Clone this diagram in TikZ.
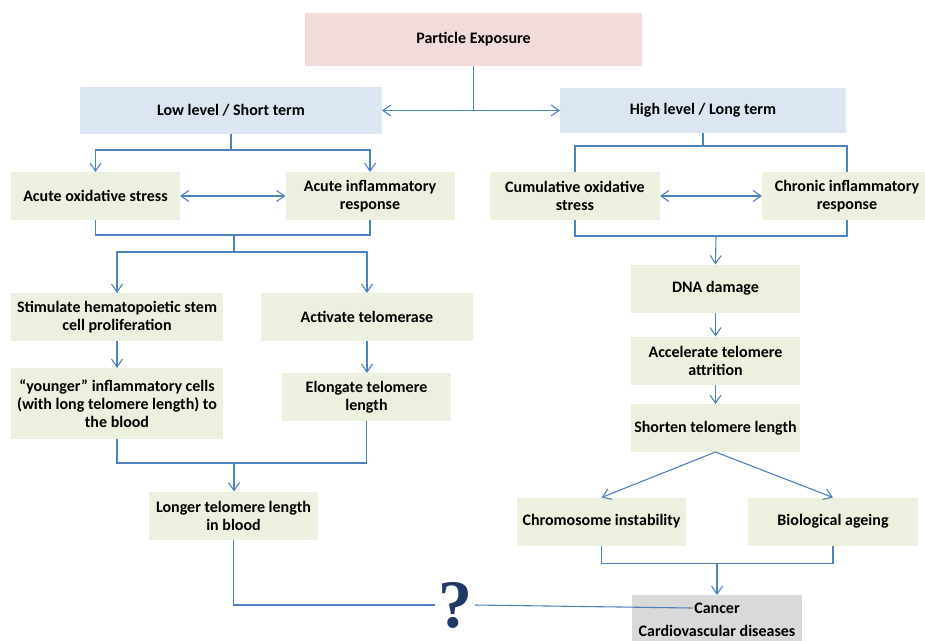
\documentclass[tikz,border=0pt]{standalone}
\usepackage{fontspec}
\setmainfont{Carlito}
\newfontfamily\qmarkfont{Liberation Serif}
\usetikzlibrary{positioning, arrows.meta}
\definecolor{expofill}{HTML}{F2DCDB}
\definecolor{levelfill}{HTML}{DCE6F2}
\definecolor{effectfill}{HTML}{EBF1DE}
\definecolor{diseasefill}{HTML}{D9D9D9}
\definecolor{linkblue}{HTML}{4F81BD}
\definecolor{qmarkblue}{HTML}{1F3864}

\begin{document}
\begin{tikzpicture}
    [x=1pt, y=-1pt, outer sep=0pt,
     stage/.style={rectangle, inner sep=0pt, align=center,
       font=\bfseries\fontsize{16}{18}\selectfont},
     level/.style={stage, fill=levelfill},
     effect/.style={stage, fill=effectfill, minimum width=169pt,
       minimum height=48pt},
     link/.style={draw=linkblue, line width=1.1pt},
     arrow/.style={link, -{Straight Barb[length=8pt, width=11pt]}},
     both/.style={link, {Straight Barb[length=8pt, width=11pt]}-{Straight Barb[length=8pt, width=11pt]}}]
    \useasboundingbox (0,0) rectangle (925,640);
    % exposure and its two levels
    \node (expo) [stage, fill=expofill, minimum width=337pt, minimum height=53pt] at (473.5,39.5) {Particle Exposure};
    \node (low) [level, minimum width=302pt, minimum height=47pt] at (231,110.5) {Low level / Short term};
    \node (high) [level, minimum width=286pt, minimum height=45pt] at (703,110.5) {High level / Long term};
    % short term branch
    \node (aox) [effect] at (95.5,196) {Acute oxidative stress};
    \node (ainf) [effect] at (370,196) {Acute inflammatory\\response};
    \node (stim) [effect, minimum width=212pt] at (117,317) {Stimulate hematopoietic stem\\cell proliferation};
    \node (act) [effect, minimum width=212pt] at (367,317) {Activate telomerase};
    \node (young) [effect, minimum width=212pt, minimum height=71pt] at (117,403.5) {“younger” inflammatory cells\\(with long telomere length) to\\the blood};
    \node (elong) [effect] at (366.5,397) {Elongate telomere\\length};
    \node (longer) [effect] at (233.5,515.5) {Longer telomere length\\in blood};
    % long term branch
    \node (cox) [effect, minimum width=170pt] at (575,196) {Cumulative oxidative\\stress};
    \node (cinf) [effect, minimum width=170pt] at (847,196) {Chronic inflammatory\\response};
    \node (dna) [effect] at (715.5,288.5) {DNA damage};
    \node (accel) [effect] at (715.5,360.5) {Accelerate telomere\\attrition};
    \node (short) [effect] at (715.5,428) {Shorten telomere length};
    \node (chrom) [effect] at (601.5,521.5) {Chromosome instability};
    \node (bio) [effect, minimum width=170pt] at (833,521.5) {Biological ageing};
    \node (disease) [rectangle, fill=diseasefill, minimum width=170pt, minimum height=60pt] at (717,625) {};
    \node (cancer) [stage, inner sep=2pt] at (717,608) {Cancer};
    \node (cvd) [stage, inner sep=2pt] at (717,631) {Cardiovascular diseases};
    \node (qmark) [font=\qmarkfont\bfseries\fontsize{68}{68}\selectfont, text=qmarkblue, inner sep=3pt] at (455,605) {?};
    % joins
    \coordinate (acutejoin) at (234,235);
    \coordinate (chronicjoin) at (716,235);
    \coordinate (telojoin) at (234,463);
    \coordinate (harmjoin) at (717,563);
    % connectors
    \draw [link] (expo.south) -- (expo.south |- low.east);
    \draw [both] (low.east) -- (high.west);
    \draw [arrow] (low.south) -- ++(0,16) -| (aox.north);
    \draw [arrow] (low.south) -- ++(0,16) -| (ainf.north);
    \draw [link] (high.south) -- ++(0,13) -| (cox.north);
    \draw [link] (high.south) -- ++(0,13) -| (cinf.north);
    \draw [both] (aox) -- (ainf);
    \draw [both] (cox) -- (cinf);
    \draw [link] (aox.south) -- ++(0,15) -| (ainf.south);
    \draw [arrow] (acutejoin) -- ++(0,17) -| (stim.north);
    \draw [arrow] (acutejoin) -- ++(0,17) -| (act.north);
    \draw [arrow] (stim) -- (young);
    \draw [arrow] (act.south) -- (act.south |- elong.north);
    \draw [link] (young.south) -- ++(0,24) -| (elong.south);
    \draw [arrow] (telojoin) -- (telojoin |- longer.north);
    \draw [link] (cox.south) -- ++(0,16) -| (cinf.south);
    \draw [arrow] (chronicjoin) -- (dna.north);
    \draw [arrow] (dna) -- (accel);
    \draw [arrow] (accel) -- (short);
    \draw [arrow] (short.south) -- (chrom.north);
    \draw [arrow] (short.south) -- (bio.north);
    \draw [link] (chrom.south) -- ++(0,18) -| (bio.south);
    \draw [arrow] (harmjoin) -- (disease.north);
    \draw [link] (longer.south) |- (qmark.west);
    \draw [link] (qmark.east) -- (cancer.west);
\end{tikzpicture}
\end{document}
